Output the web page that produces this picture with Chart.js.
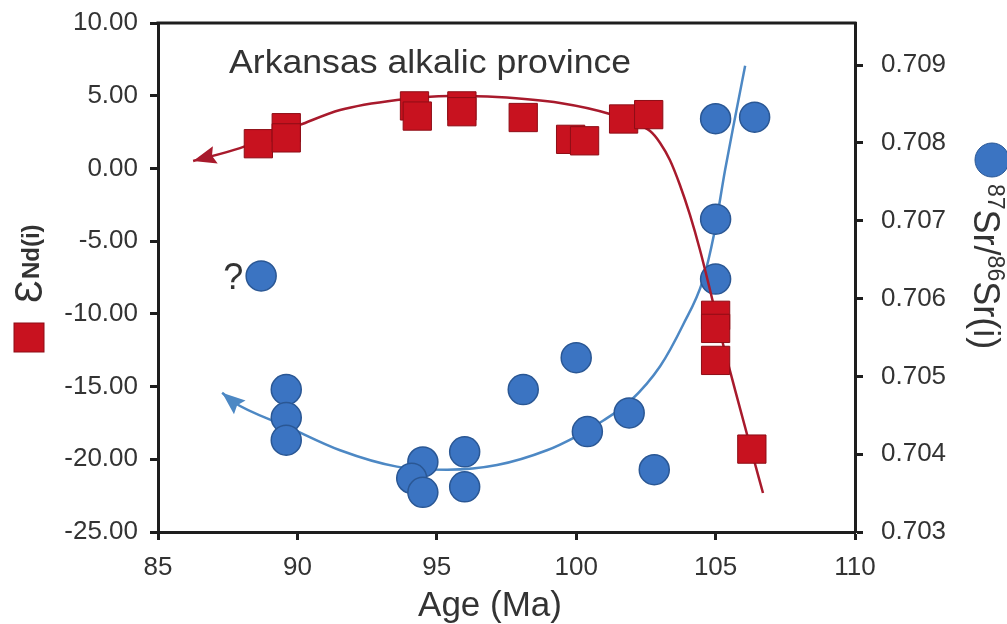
<!DOCTYPE html>
<html>
<head>
<meta charset="utf-8">
<script src="https://cdn.jsdelivr.net/npm/chart.js@4.4.1/dist/chart.umd.min.js"></script>
<style>
  html, body { margin: 0; padding: 0; background: #fff; }
  #wrap { width: 1007px; height: 624px; }
</style>
</head>
<body>
<div id="wrap"><canvas id="c" width="1007" height="624"></canvas></div>
<script>
// Tick labels
const ageTicks = [85, 90, 95, 100, 105, 110];
const ndTicks = [-25, -20, -15, -10, -5, 0, 5, 10];
const srTicks = [0.703, 0.704, 0.705, 0.706, 0.707, 0.708, 0.709];

// εNd(i) samples (left axis)
const ndAge   = [88.6, 89.6, 89.6, 94.2, 94.3, 95.9, 95.9, 98.1, 99.8, 100.3, 101.7, 102.6, 105.0, 105.0, 105.0, 106.3];
const ndValue = [1.7, 2.8, 2.1, 4.3, 3.6, 4.3, 3.9, 3.5, 2.0, 1.9, 3.4, 3.7, -10.1, -11.0, -13.2, -19.3];

// 87Sr/86Sr(i) samples (right axis)
const srAge   = [88.7, 89.6, 89.6, 89.6, 94.5, 94.1, 94.5, 96.0, 96.0, 98.1, 100.0, 100.4, 101.9, 102.8, 105.0, 106.4, 105.0, 105.0];
const srValue = [0.70629, 0.70483, 0.70447, 0.70418, 0.70390, 0.70369, 0.70351, 0.70403, 0.70358, 0.70483, 0.70524, 0.70429, 0.70453, 0.70380, 0.70831, 0.70833, 0.70702, 0.70625];

// Hand-drawn εNd trend (arrow at its start)
const ndTrendAge   = [86.26, 87.94, 90.09, 91.53, 93.57, 95.47, 97.16, 99.42, 101.21, 101.93, 102.65, 103.01, 103.36, 103.72, 104.08, 104.44, 104.80, 105.23, 105.70, 106.23, 106.70];
const ndTrendValue = [0.51, 1.40, 2.99, 4.02, 4.71, 4.98, 4.91, 4.50, 3.74, 3.19, 2.57, 1.75, 0.58, -1.14, -3.20, -5.61, -8.36, -11.80, -15.24, -19.02, -22.32];

// Hand-drawn Sr trend (arrow at its start)
const srTrendAge   = [87.30, 87.70, 89.66, 91.53, 93.57, 95.37, 97.16, 98.95, 99.96, 100.96, 101.93, 103.01, 103.83, 104.55, 104.94, 105.34, 105.70, 106.06];
const srTrendValue = [0.70479, 0.70467, 0.70435, 0.70405, 0.70384, 0.70380, 0.70386, 0.70405, 0.70422, 0.70443, 0.70468, 0.70513, 0.70566, 0.70624, 0.70682, 0.70765, 0.70833, 0.70899];

const FONT = "'Liberation Sans', Arial, Helvetica, sans-serif";
const RED_FILL = '#c8121f', RED_EDGE = '#8e0d16', RED_LINE = '#a81a2c';
const BLUE_FILL = '#3b74c2', BLUE_EDGE = '#2a5794', BLUE_LINE = '#4d88c4';
const AXIS = '#1e1e1e', TEXT = '#333333';

const pts = (xs, ys) => xs.map((x, i) => ({ x, y: ys[i] }));

function arrowHead(ctx, tip, from, color, len, half) {
  const ang = Math.atan2(tip.y - from.y, tip.x - from.x);
  ctx.save();
  ctx.translate(tip.x, tip.y);
  ctx.rotate(ang);
  ctx.beginPath();
  ctx.moveTo(0, 0);
  ctx.lineTo(-len, -half);
  ctx.lineTo(-len * 0.85, 0);
  ctx.lineTo(-len, half);
  ctx.closePath();
  ctx.fillStyle = color;
  ctx.fill();
  ctx.restore();
}

const decor = {
  id: 'decor',
  afterDatasetsDraw(chart) {
    const ctx = chart.ctx;
    [[1, RED_LINE], [3, BLUE_LINE]].forEach(([idx, col]) => {
      const els = chart.getDatasetMeta(idx).data;
      arrowHead(ctx, els[0], els[1], col, 23, 9);
    });
  },
  afterDraw(chart) {
    const ctx = chart.ctx;
    const a = chart.chartArea;
    // frame top edge
    ctx.save();
    ctx.strokeStyle = AXIS;
    ctx.lineWidth = 3;
    ctx.beginPath();
    ctx.moveTo(a.left - 1.5, a.top);
    ctx.lineTo(a.right + 1.5, a.top);
    ctx.stroke();

    // panel title
    ctx.fillStyle = TEXT;
    ctx.textBaseline = 'alphabetic';
    ctx.save();
    ctx.translate(229, 73);
    ctx.scale(1.08, 1);
    ctx.font = `33px ${FONT}`;
    ctx.textAlign = 'left';
    ctx.fillText('Arkansas alkalic province', 0, 0);
    ctx.restore();

    // x-axis title
    ctx.font = `35px ${FONT}`;
    ctx.textAlign = 'center';
    ctx.fillText('Age (Ma)', 490, 616);

    // question mark beside the uncertain Sr sample
    const sx = chart.scales.x.getPixelForValue(srAge[0]);
    const sy = chart.scales.y2.getPixelForValue(srValue[0]);
    ctx.font = `36px ${FONT}`;
    ctx.textAlign = 'right';
    ctx.fillText('?', sx - 18, sy + 13);

    // left axis title: square symbol + εNd(i)
    ctx.fillStyle = RED_FILL;
    ctx.strokeStyle = RED_EDGE;
    ctx.lineWidth = 1;
    ctx.fillRect(14, 323, 30, 29);
    ctx.strokeRect(14, 323, 30, 29);
    ctx.save();
    ctx.translate(42, 303);
    ctx.rotate(-Math.PI / 2);
    ctx.fillStyle = TEXT;
    ctx.textAlign = 'left';
    ctx.font = `38px ${FONT}`;
    ctx.fillText('\u0190', 0, 0);
    const w1 = ctx.measureText('\u0190').width;
    ctx.font = `bold 24px ${FONT}`;
    ctx.fillText('Nd(i)', w1 + 1, -3);
    ctx.restore();

    // right axis title: circle symbol + 87Sr/86Sr(i)
    ctx.beginPath();
    ctx.arc(992, 160, 17, 0, Math.PI * 2);
    ctx.fillStyle = BLUE_FILL;
    ctx.fill();
    ctx.strokeStyle = BLUE_EDGE;
    ctx.stroke();
    ctx.save();
    ctx.translate(974, 184);
    ctx.rotate(Math.PI / 2);
    ctx.fillStyle = TEXT;
    ctx.textAlign = 'left';
    const parts = [['87', true], ['Sr/', false], ['86', true], ['Sr(i)', false]];
    let px = 0;
    parts.forEach(([t, sup]) => {
      ctx.font = sup ? `23px ${FONT}` : `36px ${FONT}`;
      ctx.fillText(t, px, sup ? -14 : 0);
      px += ctx.measureText(t).width;
    });
    ctx.restore();
    ctx.restore();
  }
};

const tickGrid = { drawOnChartArea: false, drawTicks: true, tickLength: 8, tickWidth: 3, tickColor: AXIS };
const axisBorder = { display: true, color: AXIS, width: 3 };
const noPad = s => { s.paddingTop = 0; s.paddingBottom = 0; s.paddingLeft = 0; s.paddingRight = 0; };

new Chart(document.getElementById('c'), {
  type: 'scatter',
  data: {
    datasets: [
      {
        label: 'εNd(i)',
        data: pts(ndAge, ndValue),
        yAxisID: 'y',
        pointStyle: 'rect',
        pointRadius: 20,
        backgroundColor: RED_FILL,
        borderColor: RED_EDGE,
        borderWidth: 1
      },
      {
        type: 'line',
        label: 'εNd trend',
        data: pts(ndTrendAge, ndTrendValue),
        yAxisID: 'y',
        borderColor: RED_LINE,
        borderWidth: 2.5,
        pointRadius: 0,
        fill: false,
        cubicInterpolationMode: 'monotone'
      },
      {
        label: '87Sr/86Sr(i)',
        data: pts(srAge, srValue),
        yAxisID: 'y2',
        pointStyle: 'circle',
        pointRadius: 15,
        backgroundColor: BLUE_FILL,
        borderColor: BLUE_EDGE,
        borderWidth: 1.5
      },
      {
        type: 'line',
        label: 'Sr trend',
        data: pts(srTrendAge, srTrendValue),
        yAxisID: 'y2',
        borderColor: BLUE_LINE,
        borderWidth: 2.5,
        pointRadius: 0,
        fill: false,
        cubicInterpolationMode: 'monotone'
      }
    ]
  },
  options: {
    responsive: false,
    animation: false,
    devicePixelRatio: 1,
    layout: { padding: { top: 23, left: 0, right: 0, bottom: 0 } },
    plugins: { legend: { display: false }, tooltip: { enabled: false } },
    scales: {
      x: {
        type: 'linear',
        position: 'bottom',
        min: 85, max: 110,
        afterBuildTicks: s => { s.ticks = ageTicks.map(v => ({ value: v })); },
        afterFit: s => { s.height = 92; noPad(s); },
        ticks: { color: TEXT, font: { family: FONT, size: 26 }, padding: 12, maxRotation: 0 },
        grid: tickGrid,
        border: axisBorder
      },
      y: {
        type: 'linear',
        position: 'left',
        min: -25, max: 10,
        afterBuildTicks: s => { s.ticks = ndTicks.map(v => ({ value: v })); },
        afterFit: s => { s.width = 158; noPad(s); },
        ticks: { color: TEXT, font: { family: FONT, size: 26 }, padding: 12, callback: v => v.toFixed(2) },
        grid: tickGrid,
        border: axisBorder
      },
      y2: {
        type: 'linear',
        position: 'right',
        min: 0.703, max: 0.70954,
        afterBuildTicks: s => { s.ticks = srTicks.map(v => ({ value: v })); },
        afterFit: s => { s.width = 152; noPad(s); },
        ticks: { color: TEXT, font: { family: FONT, size: 26 }, padding: 18, callback: v => v.toFixed(3) },
        grid: tickGrid,
        border: axisBorder
      }
    }
  },
  plugins: [decor]
});
</script>
</body>
</html>
